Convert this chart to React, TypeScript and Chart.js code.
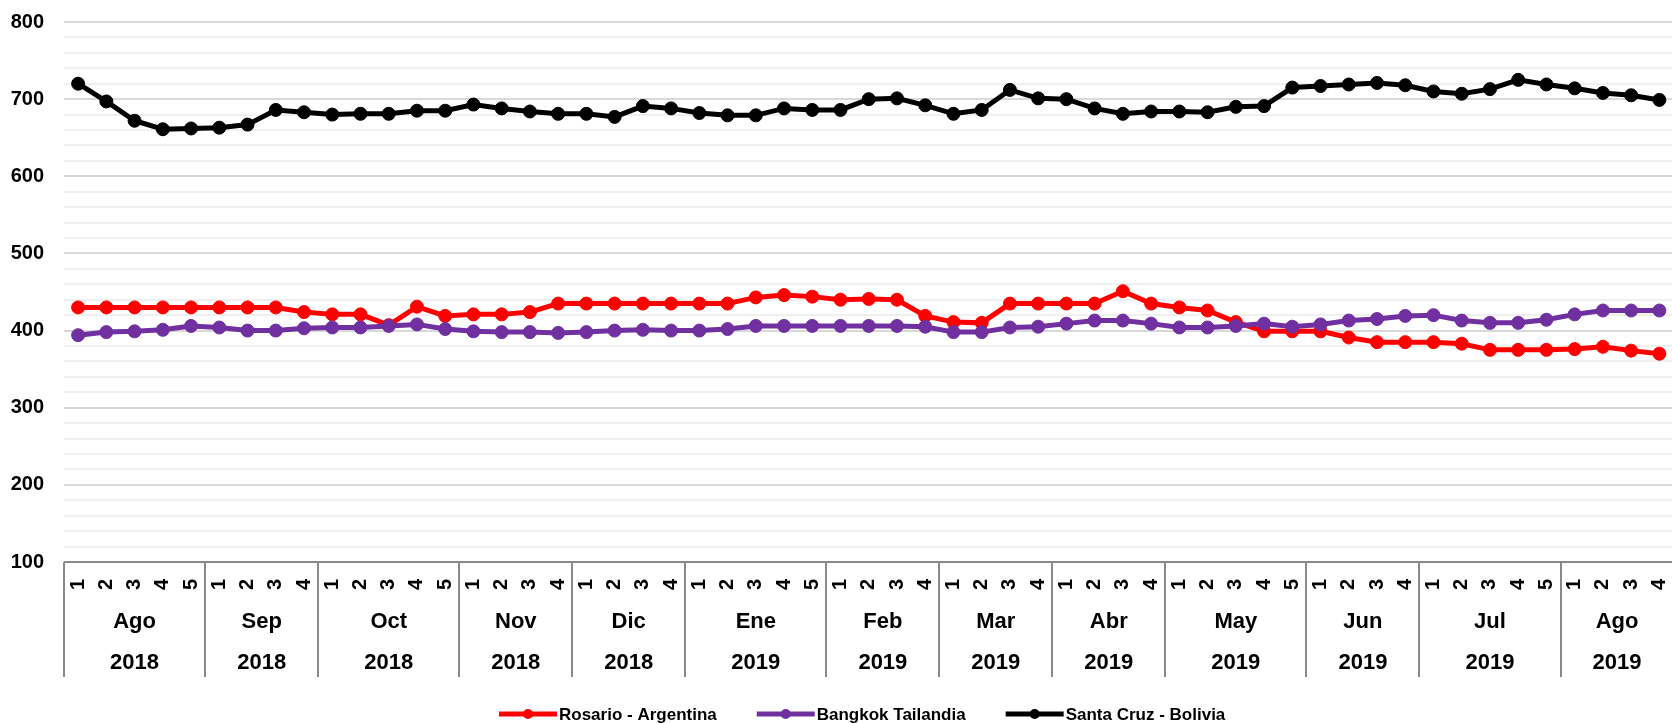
import React, { useEffect, useRef } from 'react';
import { Chart, registerables } from 'chart.js';

Chart.register(...registerables);

const FONT = "'Liberation Sans', Arial, Helvetica, sans-serif";

// Category structure
const months = ['Ago', 'Sep', 'Oct', 'Nov', 'Dic', 'Ene', 'Feb', 'Mar', 'Abr', 'May', 'Jun', 'Jul', 'Ago'];
const years = ['2018', '2018', '2018', '2018', '2018', '2019', '2019', '2019', '2019', '2019', '2019', '2019', '2019'];
const weeksPerMonth = [5, 4, 5, 4, 4, 5, 4, 4, 4, 5, 4, 5, 4];
const weekLabels = [
  '1', '2', '3', '4', '5',
  '1', '2', '3', '4',
  '1', '2', '3', '4', '5',
  '1', '2', '3', '4',
  '1', '2', '3', '4',
  '1', '2', '3', '4', '5',
  '1', '2', '3', '4',
  '1', '2', '3', '4',
  '1', '2', '3', '4',
  '1', '2', '3', '4', '5',
  '1', '2', '3', '4',
  '1', '2', '3', '4', '5',
  '1', '2', '3', '4',
];

// Series
const seriesNames = ['Rosario - Argentina', 'Bangkok Tailandia', 'Santa Cruz - Bolivia'];
const seriesColors = ['#FF0000', '#7030A0', '#000000'];

const rosario = [
  430, 430, 430, 430, 430,
  430, 430, 430, 424,
  421, 421, 407, 431, 419,
  421, 421, 424, 435,
  435, 435, 435, 435,
  435, 435, 443, 446, 444,
  440, 441, 440, 419,
  411, 410, 435, 435,
  435, 435, 451, 435,
  430, 426, 411, 399, 399,
  399, 391, 385, 385,
  385, 383, 375, 375, 375,
  376, 379, 374, 370,
];

const bangkok = [
  394, 398, 399, 401, 406,
  404, 400, 400, 403,
  404, 404, 406, 408, 402,
  399, 398, 398, 397,
  398, 400, 401, 400,
  400, 402, 406, 406, 406,
  406, 406, 406, 405,
  398, 398, 404, 405,
  409, 413, 413, 409,
  404, 404, 406, 409, 405,
  408, 413, 415, 419,
  420, 413, 410, 410, 414,
  421, 426, 426, 426,
];

const santaCruz = [
  720, 697, 672, 661, 662,
  663, 667, 686, 683,
  680, 681, 681, 685, 685,
  693, 688, 684, 681,
  681, 677, 691, 688,
  682, 679, 679, 688, 686,
  686, 700, 701, 692,
  681, 686, 712, 701,
  700, 688, 681, 684,
  684, 683, 690, 691, 715,
  717, 719, 721, 718,
  710, 707, 713, 725, 719,
  714, 708, 705, 699,
];

// Y axis
const yMin = 100;
const yMax = 800;
const yStep = 20;
const yLabelStep = 100;

const groupPlugin = {
  id: 'monthYearGroups',
  afterDraw(chart: any) {
    const { ctx, chartArea } = chart;
    const xs = chart.scales.x;
    const half = (xs.getPixelForValue(1) - xs.getPixelForValue(0)) / 2;
    const bottom = chartArea.bottom;
    ctx.save();
    // separators
    ctx.strokeStyle = '#898989';
    ctx.lineWidth = 2;
    let start = 0;
    weeksPerMonth.forEach((n) => {
      const x0 = Math.round(xs.getPixelForValue(start) - half);
      ctx.beginPath();
      ctx.moveTo(x0, bottom);
      ctx.lineTo(x0, bottom + 115);
      ctx.stroke();
      start += n;
    });
    // month & year labels
    ctx.fillStyle = '#000';
    ctx.textAlign = 'center';
    ctx.textBaseline = 'alphabetic';
    ctx.font = `bold 22px ${FONT}`;
    start = 0;
    weeksPerMonth.forEach((n, i) => {
      const cx = (xs.getPixelForValue(start) + xs.getPixelForValue(start + n - 1)) / 2;
      ctx.fillText(months[i], cx, bottom + 65.5);
      ctx.fillText(years[i], cx, bottom + 107);
      start += n;
    });
    // legend
    ctx.font = `bold 17px ${FONT}`;
    ctx.textAlign = 'left';
    let lx = 499;
    const ly = 714;
    chart.data.datasets.forEach((ds: any) => {
      ctx.strokeStyle = ds.borderColor;
      ctx.lineWidth = 5;
      ctx.beginPath();
      ctx.moveTo(lx, ly);
      ctx.lineTo(lx + 58, ly);
      ctx.stroke();
      ctx.fillStyle = ds.borderColor;
      ctx.beginPath();
      ctx.arc(lx + 29, ly, 5, 0, Math.PI * 2);
      ctx.fill();
      ctx.fillStyle = '#000';
      ctx.fillText(ds.label, lx + 60, ly + 6);
      lx += 60 + ctx.measureText(ds.label).width + 40;
    });
    ctx.restore();
  },
};

function makeDataset(i: number, data: number[], order: number) {
  return {
    label: seriesNames[i],
    data,
    borderColor: seriesColors[i],
    backgroundColor: seriesColors[i],
    pointBackgroundColor: seriesColors[i],
    pointBorderColor: seriesColors[i],
    borderWidth: 5,
    pointRadius: 6.5,
    pointBorderWidth: 1,
    tension: 0,
    fill: false,
    order,
  };
}

export default function App() {
  const canvasRef = useRef<HTMLCanvasElement | null>(null);

  useEffect(() => {
    if (!canvasRef.current) return;
    const chart = new Chart(canvasRef.current, {
      type: 'line',
      data: {
        labels: weekLabels,
        datasets: [
          makeDataset(0, rosario, 3),
          makeDataset(1, bangkok, 2),
          makeDataset(2, santaCruz, 1),
        ],
      },
      options: {
        responsive: false,
        animation: false,
        events: [],
        layout: { padding: { top: 22, left: 11, right: 0, bottom: 133 } },
        plugins: {
          legend: { display: false },
          tooltip: { enabled: false },
        },
        scales: {
          x: {
            type: 'category',
            offset: true,
            grid: { display: false, drawTicks: false },
            border: { display: false },
            afterFit: (s: any) => {
              s.height = 28;
              s.paddingLeft = 0;
              s.paddingRight = 0;
              s.paddingTop = 0;
              s.paddingBottom = 0;
            },
            ticks: {
              autoSkip: false,
              minRotation: 90,
              maxRotation: 90,
              padding: 17,
              color: '#000',
              font: { family: FONT, size: 20, weight: 'bold' },
            },
          },
          y: {
            min: yMin,
            max: yMax,
            afterFit: (s: any) => {
              s.width = 53;
              s.paddingLeft = 0;
              s.paddingRight = 0;
              s.paddingTop = 0;
              s.paddingBottom = 0;
            },
            grid: {
              drawTicks: false,
              color: (c: any) => {
                const v = c.tick ? c.tick.value : 0;
                if (v === yMin) return '#898989';
                if (v % yLabelStep === 0) return '#d9d9d9';
                return '#f0f0f0';
              },
              lineWidth: 2,
            },
            border: { display: false },
            ticks: {
              stepSize: yStep,
              autoSkip: false,
              padding: 20,
              color: '#000',
              font: { family: FONT, size: 20, weight: 'bold' },
              callback: (v: any) => (Number(v) % yLabelStep === 0 ? String(v) : ''),
            },
          },
        },
      },
      plugins: [groupPlugin],
    });
    return () => chart.destroy();
  }, []);

  return (
    <div
      style={{
        position: 'absolute',
        left: 0,
        top: 0,
        width: 1672,
        height: 723,
        overflow: 'hidden',
        background: '#fff',
      }}
    >
      <canvas ref={canvasRef} width={1681} height={723} style={{ display: 'block' }} />
    </div>
  );
}
